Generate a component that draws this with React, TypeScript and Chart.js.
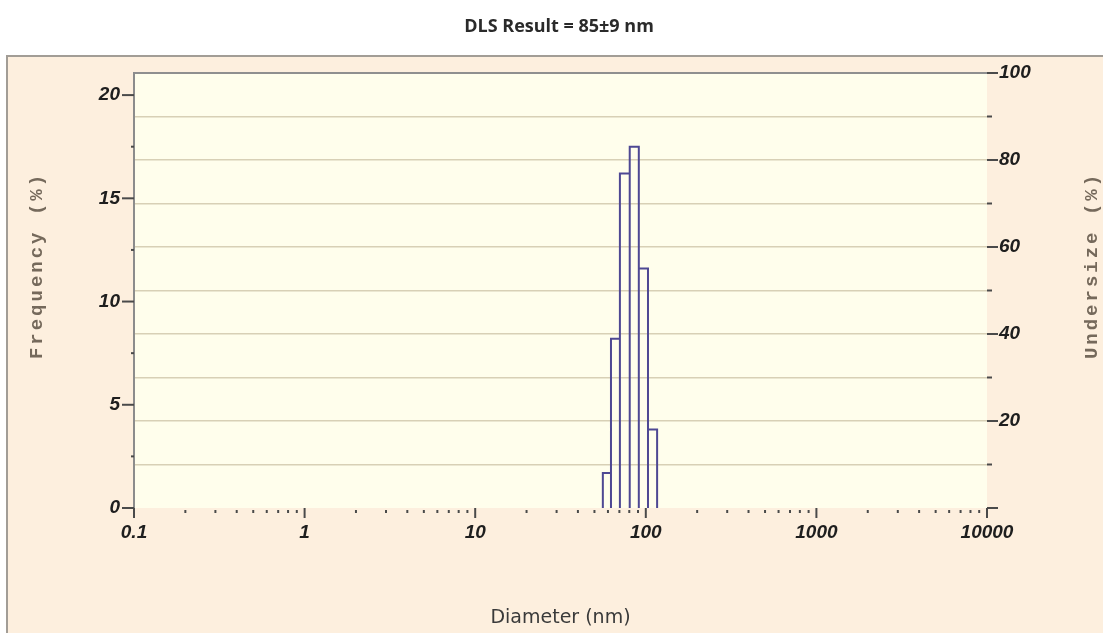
import React, { useEffect, useRef } from 'react';
import { Chart, registerables } from 'chart.js';

Chart.register(...registerables);

// ---- data ----
const BIN_EDGES_NM = [56, 62.5, 70.5, 80.5, 91, 103, 116.5];
const FREQUENCY_PCT = [1.7, 8.2, 16.2, 17.5, 11.6, 3.8];

// ---- tick labels ----
const X_MAJOR_TICKS = [0.1, 1, 10, 100, 1000, 10000];
const X_MINOR_MULTIPLES = [2, 3, 4, 5, 6, 7, 8, 9];
const LEFT_MAJOR_TICKS = [0, 5, 10, 15, 20];
const LEFT_MINOR_TICKS = [2.5, 7.5, 12.5, 17.5];
const RIGHT_TICKS = [0, 10, 20, 30, 40, 50, 60, 70, 80, 90, 100];
const RIGHT_LABELED_TICKS = [20, 40, 60, 80, 100];

const TITLE = 'DLS Result = 85±9 nm';
const X_TITLE = 'Diameter (nm)';
const Y_TITLE = 'Frequency (%)';
const Y2_TITLE = 'Undersize (%)';

const LEFT_MAX = 21.07;

export default function App() {
  const ref = useRef<HTMLCanvasElement | null>(null);

  useEffect(() => {
    const canvas = ref.current;
    if (!canvas) return;

    const outline: { x: number; y: number }[] = [];
    FREQUENCY_PCT.forEach((h, i) => {
      const a = BIN_EDGES_NM[i];
      const b = BIN_EDGES_NM[i + 1];
      outline.push({ x: a, y: 0 }, { x: a, y: h }, { x: b, y: h }, { x: b, y: 0 });
    });

    const xMinor: number[] = [];
    X_MAJOR_TICKS.slice(0, -1).forEach((d) => X_MINOR_MULTIPLES.forEach((m) => xMinor.push(d * m)));

    const decor = {
      id: 'decor',
      beforeDraw(chart: any) {
        const { ctx, chartArea, width, height } = chart;
        ctx.save();
        ctx.fillStyle = '#ffffff';
        ctx.fillRect(0, 0, width, height);
        ctx.fillStyle = '#fdefde';
        ctx.fillRect(6, 55, width - 6, height - 55);
        ctx.strokeStyle = '#a29d96';
        ctx.lineWidth = 2;
        ctx.beginPath();
        ctx.moveTo(7, height);
        ctx.lineTo(7, 56);
        ctx.lineTo(width, 56);
        ctx.stroke();
        ctx.fillStyle = '#fffeec';
        ctx.fillRect(chartArea.left, chartArea.top, chartArea.right - chartArea.left, chartArea.bottom - chartArea.top);
        ctx.restore();
      },
      afterDraw(chart: any) {
        const { ctx, chartArea, scales } = chart;
        const { left, right, bottom } = chartArea;
        ctx.save();
        // tick marks
        ctx.strokeStyle = '#4a4a4a';
        ctx.lineWidth = 2;
        const seg = (x1: number, y1: number, x2: number, y2: number) => {
          ctx.beginPath();
          ctx.moveTo(x1, y1);
          ctx.lineTo(x2, y2);
          ctx.stroke();
        };
        LEFT_MAJOR_TICKS.forEach((v) => {
          const y = scales.y.getPixelForValue(v);
          seg(left - 12, y, left, y);
        });
        LEFT_MINOR_TICKS.forEach((v) => {
          const y = scales.y.getPixelForValue(v);
          seg(left - 3, y, left, y);
        });
        RIGHT_TICKS.forEach((v) => {
          const y = scales.y2.getPixelForValue(v);
          const major = RIGHT_LABELED_TICKS.includes(v) || v === 0;
          seg(right, y, right + (major ? 11 : 5), y);
        });
        seg(right, bottom, right, bottom + 6);
        seg(left, bottom, left, bottom + 4);
        X_MAJOR_TICKS.forEach((v) => {
          const x = scales.x.getPixelForValue(v);
          seg(x, bottom, x, bottom + 10);
        });
        xMinor.forEach((v) => {
          const x = scales.x.getPixelForValue(v);
          seg(x, bottom + 2, x, bottom + 5);
        });

        // titles
        ctx.fillStyle = '#2a2a2a';
        ctx.textAlign = 'center';
        ctx.textBaseline = 'middle';
        ctx.font = 'bold 18px "Open Sans"';
        ctx.fillText(TITLE, 559, 27);

        ctx.fillStyle = '#3a3a3a';
        ctx.font = '19px "DejaVu Sans"';
        ctx.fillText(X_TITLE, (left + right) / 2, 618);

        ctx.fillStyle = '#75695b';
        ctx.font = 'bold 19px "Liberation Mono"';
        (ctx as any).letterSpacing = '3px';
        ctx.save();
        ctx.translate(37, 267);
        ctx.rotate(-Math.PI / 2);
        ctx.fillText(Y_TITLE, 1.5, 0);
        ctx.restore();
        ctx.save();
        ctx.translate(1092, 267);
        ctx.rotate(-Math.PI / 2);
        ctx.fillText(Y2_TITLE, 1.5, 0);
        ctx.restore();
        (ctx as any).letterSpacing = '0px';
        ctx.restore();
      },
    };

    const tickFont = { family: '"Liberation Sans", Arial', size: 19, weight: 'bold' as const, style: 'italic' as const };

    const chart = new Chart(canvas, {
      type: 'line',
      data: {
        datasets: [
          {
            label: 'Frequency',
            data: outline,
            borderColor: '#4e4893',
            borderWidth: 2,
            pointRadius: 0,
            tension: 0,
            fill: false,
            xAxisID: 'x',
            yAxisID: 'y',
          },
        ],
      },
      options: {
        responsive: false,
        animation: false,
        events: [],
        layout: { padding: { top: 73, left: 0, right: 0, bottom: 0 } },
        plugins: { legend: { display: false }, tooltip: { enabled: false }, title: { display: false } },
        scales: {
          x: {
            type: 'logarithmic',
            position: 'bottom',
            min: 0.1,
            max: 10000,
            grid: { display: false, drawTicks: false },
            border: { display: false },
            afterBuildTicks: (s: any) => {
              s.ticks = X_MAJOR_TICKS.map((v) => ({ value: v }));
            },
            afterFit: (s: any) => {
              s.height = 125;
            },
            ticks: {
              autoSkip: false,
              maxRotation: 0,
              padding: 13,
              color: '#1e1e1e',
              font: tickFont,
              callback: (v: any) => String(v),
            },
          },
          y: {
            type: 'linear',
            position: 'left',
            min: 0,
            max: LEFT_MAX,
            grid: { display: false, drawTicks: false },
            border: { display: true, color: '#8c8c8c', width: 2 },
            afterBuildTicks: (s: any) => {
              s.ticks = LEFT_MAJOR_TICKS.map((v) => ({ value: v }));
            },
            afterFit: (s: any) => {
              s.width = 134;
            },
            ticks: { padding: 14, color: '#1e1e1e', font: tickFont, callback: (v: any) => String(v) },
          },
          y2: {
            type: 'linear',
            position: 'right',
            min: 0,
            max: 100,
            grid: {
              display: true,
              drawTicks: false,
              color: (c: any) => (c.tick && c.tick.value === 100 ? '#8f8f8f' : c.tick && c.tick.value === 0 ? 'rgba(0,0,0,0)' : '#d8d0b6'),
              lineWidth: (c: any) => (c.tick && c.tick.value === 100 ? 2 : 1.5),
            },
            border: { display: false },
            afterBuildTicks: (s: any) => {
              s.ticks = RIGHT_TICKS.map((v) => ({ value: v }));
            },
            afterFit: (s: any) => {
              s.width = 116;
            },
            ticks: {
              padding: 12,
              color: '#1e1e1e',
              font: tickFont,
              autoSkip: false,
              callback: (v: any) => (RIGHT_LABELED_TICKS.includes(Number(v)) ? String(v) : ''),
            },
          },
        },
      },
      plugins: [decor],
    });

    return () => chart.destroy();
  }, []);

  return (
    <div style={{ position: 'fixed', left: 0, top: 0, width: 1103, height: 633, background: '#fff' }}>
      <canvas ref={ref} width={1103} height={633} style={{ display: 'block', width: 1103, height: 633 }} />
    </div>
  );
}
